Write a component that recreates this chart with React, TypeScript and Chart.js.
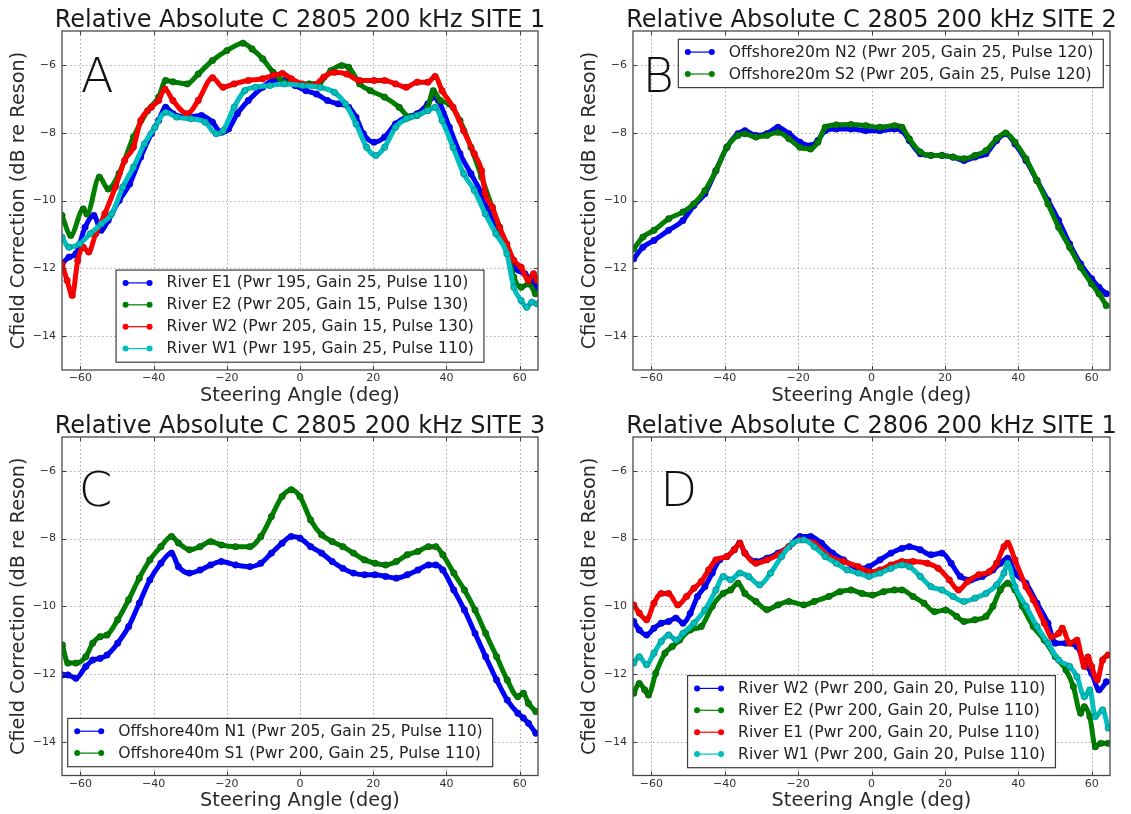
import React, { useEffect, useRef } from "react";
import { Chart, registerables } from "chart.js";

Chart.register(...registerables);

// ---------- shared axis data ----------
const xTicks = [-60, -40, -20, 0, 20, 40, 60];
const yTicks = [-14, -12, -10, -8, -6];
const xRange = [-65, 65];
const yRange = [-15, -5];
const xAxisLabel = "Steering Angle (deg)";
const yAxisLabel = "Cfield Correction (dB re Reson)";

// ---------- Panel A : 2805 SITE 1 ----------
const aTitle = "Relative Absolute C 2805 200 kHz SITE 1";
const aLabels = [
  "River E1 (Pwr 195, Gain 25, Pulse 110)",
  "River E2 (Pwr 205, Gain 15, Pulse 130)",
  "River W2 (Pwr 205, Gain 15, Pulse 130)",
  "River W1 (Pwr 195, Gain 25, Pulse 110)",
];
const aE1Angle = [-65, -63.1, -61.2, -58.7, -56.3, -54.3, -52.4, -49.4, -46.5, -43.5, -40.6, -38.6, -36.7, -34.7, -30.8, -26.9, -23.9, -21.5, -19.5, -17.1, -14.1, -10.2, -7.3, -4.3, -1.4, 1.6, 4.5, 7.5, 10.4, 13.3, 15.3, 17.3, 20.2, 23.1, 26.1, 29, 32, 34.9, 36.4, 37.8, 40.8, 43.7, 46.7, 49.6, 52.5, 55.5, 58.4, 61.4, 63.3, 64.8];
const aE1Value = [-11.87, -11.67, -11.57, -10.79, -10.44, -10.88, -10.59, -10.0, -9.51, -8.72, -8.03, -7.64, -7.25, -7.44, -7.54, -7.49, -7.69, -7.99, -7.89, -7.44, -7.05, -6.66, -6.46, -6.46, -6.61, -6.76, -6.86, -7.05, -7.15, -7.25, -7.54, -8.03, -8.28, -8.13, -7.74, -7.54, -7.44, -7.15, -6.95, -7.05, -7.84, -8.62, -9.21, -9.8, -10.59, -11.18, -11.97, -12.16, -12.36, -12.56];
const aE2Angle = [-65, -62.6, -59.2, -58.2, -54.8, -52.4, -49.4, -45.5, -41.6, -38.6, -36.7, -34.7, -30.8, -27.8, -23.9, -20, -15.6, -13.1, -10.2, -7.3, -4.3, -1.4, 2.5, 5.5, 8.4, 11.4, 13.3, 16.3, 19.2, 23.1, 27.1, 30, 32, 34.9, 36.4, 38.3, 40.8, 43.7, 46.7, 49.6, 52.5, 54.5, 56.5, 58.4, 60.4, 62.4, 64.3];
const aE2Value = [-10.44, -11.03, -10.25, -10.4, -9.31, -9.66, -9.2, -8.13, -7.35, -6.95, -6.46, -6.5, -6.56, -6.27, -5.87, -5.58, -5.36, -5.53, -5.82, -6.22, -6.51, -6.56, -6.56, -6.51, -6.17, -6.02, -6.07, -6.56, -6.76, -6.95, -7.25, -7.54, -7.49, -7.25, -6.76, -7.05, -7.15, -7.64, -8.43, -9.31, -10.2, -10.79, -11.47, -12.26, -12.56, -12.46, -12.75];
const aW2Angle = [-65, -63.6, -62.2, -60.7, -59.2, -57.7, -55.8, -53.3, -50.4, -47.9, -45.5, -43.5, -40.6, -38.6, -36.9, -34.7, -30.8, -27.8, -23.9, -21, -18, -14.1, -10.2, -7.3, -4.8, -2.4, 0.6, 3.5, 6.5, 9.4, 12.8, 16.3, 20.2, 23.1, 26.1, 29, 32, 34.9, 36.9, 38.8, 41.8, 44.7, 47.6, 49.6, 50.6, 52.5, 54.5, 56.5, 58.4, 60.4, 62.4, 63.8, 64.8];
const aW2Value = [-11.87, -12.36, -12.8, -11.77, -11.38, -11.52, -10.98, -10.39, -9.6, -8.82, -8.43, -7.64, -7.25, -7.05, -6.71, -7.05, -7.44, -7.05, -6.38, -6.66, -6.56, -6.46, -6.41, -6.31, -6.25, -6.41, -6.56, -6.61, -6.36, -6.22, -6.27, -6.46, -6.46, -6.46, -6.56, -6.66, -6.51, -6.51, -6.34, -6.76, -7.25, -7.94, -8.62, -9.12, -9.8, -10.2, -10.79, -11.28, -11.77, -11.97, -12.36, -12.16, -12.36];
const aW1Angle = [-65, -63.1, -60.2, -57.3, -54.3, -51.4, -48.4, -45.5, -42.5, -39.6, -36.7, -33.7, -29.8, -25.9, -22.9, -21, -18, -15.1, -12.2, -8.2, -4.3, 0.6, 5.5, 9.4, 12.4, 15.3, 18.2, 20.7, 23.1, 26.1, 29, 32, 34.9, 36.9, 38.8, 41.8, 44.7, 47.6, 50.6, 53.5, 56.5, 58.4, 60.4, 61.9, 63.3, 64.8];
const aW1Value = [-11.08, -11.38, -11.28, -10.98, -10.69, -10.39, -9.6, -9.02, -8.33, -7.84, -7.4, -7.54, -7.59, -7.69, -8.03, -7.94, -7.25, -6.76, -6.66, -6.61, -6.56, -6.61, -6.66, -6.81, -7.15, -7.74, -8.43, -8.67, -8.43, -7.84, -7.59, -7.49, -7.35, -7.25, -7.64, -8.43, -9.21, -9.7, -10.39, -10.98, -11.57, -12.56, -12.95, -13.15, -13.0, -13.05];

// ---------- Panel B : 2805 SITE 2 ----------
const bTitle = "Relative Absolute C 2805 200 kHz SITE 2";
const bLabels = [
  "Offshore20m N2 (Pwr 205, Gain 25, Pulse 120)",
  "Offshore20m S2 (Pwr 205, Gain 25, Pulse 120)",
];
const bAngle = [-64.8, -62.3, -59.3, -55.3, -51.4, -48.4, -45.4, -42.4, -39.4, -36.4, -34.5, -31.5, -28.5, -25.5, -22.5, -19.5, -16.6, -14.6, -12.6, -9.6, -5.6, -1.6, 2.3, 6.3, 8.3, 10.3, 13.3, 16.2, 19.2, 22.2, 25.2, 28.2, 31.2, 34.1, 36.6, 39.1, 42.1, 45.1, 48.1, 51.0, 54.0, 57.0, 60.0, 62.0, 64.0];
const bN2Value = [-11.72, -11.38, -11.18, -10.88, -10.59, -10.15, -9.8, -9.12, -8.43, -8.03, -7.94, -8.08, -8.03, -7.84, -8.03, -8.28, -8.38, -8.23, -7.94, -7.89, -7.89, -7.94, -7.94, -7.89, -7.94, -8.23, -8.62, -8.67, -8.67, -8.72, -8.82, -8.72, -8.62, -8.23, -8.03, -8.33, -8.82, -9.41, -10.0, -10.59, -11.28, -11.87, -12.31, -12.56, -12.75];
const bS2Value = [-11.43, -11.08, -10.88, -10.54, -10.34, -10.1, -9.71, -9.12, -8.43, -8.08, -8.03, -8.13, -8.08, -7.99, -8.18, -8.43, -8.48, -8.28, -7.84, -7.77, -7.76, -7.79, -7.84, -7.79, -7.84, -8.18, -8.57, -8.67, -8.67, -8.72, -8.77, -8.67, -8.53, -8.18, -8.01, -8.28, -8.77, -9.41, -10.1, -10.79, -11.38, -11.97, -12.46, -12.75, -13.1];

// ---------- Panel C : 2805 SITE 3 ----------
const cTitle = "Relative Absolute C 2805 200 kHz SITE 3";
const cLabels = [
  "Offshore40m N1 (Pwr 205, Gain 25, Pulse 110)",
  "Offshore40m S1 (Pwr 200, Gain 25, Pulse 110)",
];
const cAngle = [-64.9, -63.4, -61.2, -58.5, -56.6, -54.6, -52.7, -49.8, -46.8, -43.9, -41, -38, -35.1, -33.2, -30.2, -27.3, -24.4, -21.5, -17.6, -13.7, -10.7, -7.8, -4.9, -2.4, 0, 2.9, 5.9, 8.8, 11.7, 14.6, 17.6, 20.5, 23.4, 26.3, 29.3, 32.2, 35.1, 37.1, 39, 42, 44.9, 47.8, 50.7, 53.7, 56.6, 59.5, 61, 62.4, 64.4];
const cN1Value = [-12.03, -12.03, -12.13, -11.78, -11.59, -11.54, -11.44, -11.09, -10.6, -9.91, -9.22, -8.73, -8.43, -8.83, -9.02, -8.93, -8.78, -8.68, -8.78, -8.83, -8.73, -8.43, -8.14, -7.94, -7.99, -8.24, -8.43, -8.68, -8.88, -9.02, -9.07, -9.07, -9.12, -9.17, -9.07, -8.93, -8.78, -8.78, -8.93, -9.52, -10.11, -10.8, -11.49, -12.18, -12.77, -13.16, -13.3, -13.46, -13.75];
const cS1Value = [-11.14, -11.68, -11.68, -11.49, -11.09, -10.9, -10.85, -10.4, -9.81, -9.17, -8.63, -8.24, -7.94, -8.13, -8.33, -8.24, -8.09, -8.19, -8.24, -8.24, -7.94, -7.35, -6.76, -6.56, -6.76, -7.45, -7.89, -8.09, -8.24, -8.43, -8.63, -8.73, -8.78, -8.68, -8.48, -8.38, -8.24, -8.24, -8.48, -9.02, -9.52, -10.11, -10.8, -11.49, -12.18, -12.67, -12.57, -12.87, -13.11];

// ---------- Panel D : 2806 SITE 1 ----------
const dTitle = "Relative Absolute C 2806 200 kHz SITE 1";
const dLabels = [
  "River W2 (Pwr 200, Gain 20, Pulse 110)",
  "River E2 (Pwr 200, Gain 20, Pulse 110)",
  "River E1 (Pwr 200, Gain 20, Pulse 110)",
  "River W1 (Pwr 200, Gain 20, Pulse 110)",
];
const dW2Angle = [-64.8, -63.3, -61.3, -59.3, -57.3, -55.3, -53.3, -51.4, -49.4, -47.4, -45.4, -43.4, -41.4, -39.4, -37.4, -35.9, -34.5, -31.5, -28.5, -25.5, -22.5, -19.5, -16.6, -13.6, -10.6, -7.6, -3.6, -0.7, 2.3, 5.3, 8.3, 10.3, 13.3, 16.2, 19.2, 21.7, 24.2, 27.2, 30.2, 33.1, 35.1, 37.1, 39.1, 42.1, 45.1, 48.1, 50.1, 53.0, 56.0, 58.0, 60.0, 62.0, 64.0];
const dW2Value = [-10.45, -10.7, -10.85, -10.65, -10.5, -10.45, -10.35, -10.5, -10.21, -9.71, -9.42, -9.02, -8.63, -8.53, -8.33, -8.14, -8.43, -8.68, -8.58, -8.43, -8.24, -7.94, -7.94, -8.14, -8.43, -8.63, -8.88, -8.83, -8.63, -8.43, -8.29, -8.24, -8.33, -8.48, -8.43, -8.73, -9.12, -9.22, -9.12, -8.93, -8.73, -8.58, -9.02, -9.32, -9.91, -10.5, -11.09, -11.09, -11.19, -11.68, -11.98, -12.47, -12.23];
const dE2Angle = [-64.8, -63.3, -61.8, -60.8, -58.8, -56.3, -54.3, -52.3, -49.4, -46.4, -43.4, -40.4, -38.4, -36.4, -34.5, -31.5, -28.5, -25.5, -22.5, -18.5, -15.6, -11.6, -8.6, -5.6, -2.6, 0.3, 3.3, 6.3, 8.3, 11.3, 14.3, 17.2, 20.2, 23.2, 25.2, 28.2, 31.2, 33.1, 35.1, 37.1, 39.1, 41.1, 44.1, 47.1, 50.1, 53.0, 55.0, 57.0, 58.0, 59.5, 61.0, 62.5, 64.5];
const dE2Value = [-12.57, -12.28, -12.47, -12.62, -11.98, -11.39, -11.19, -11.0, -10.7, -10.6, -10.0, -9.62, -9.52, -9.32, -9.62, -9.86, -10.1, -9.96, -9.86, -9.96, -9.86, -9.71, -9.57, -9.52, -9.62, -9.67, -9.57, -9.52, -9.52, -9.71, -9.91, -10.16, -10.11, -10.3, -10.45, -10.4, -10.3, -10.0, -9.52, -9.32, -9.52, -10.0, -10.6, -11.0, -11.49, -11.88, -12.37, -13.16, -12.97, -13.26, -14.15, -14.05, -14.05];
const dE1Angle = [-64.8, -63.3, -61.3, -59.3, -57.3, -55.3, -52.8, -50.4, -48.4, -46.4, -44.4, -42.4, -39.4, -37.4, -35.9, -34.5, -31.5, -28.5, -25.5, -22.5, -19.5, -15.6, -11.6, -7.6, -3.6, -0.7, 2.3, 5.3, 8.3, 11.3, 15.2, 18.2, 21.2, 23.7, 26.2, 29.2, 32.1, 34.1, 36.1, 37.1, 39.1, 42.1, 44.1, 47.1, 49.1, 51.0, 52.0, 54.0, 56.0, 58.0, 59.0, 60.0, 61.5, 63.0, 64.5];
const dE1Value = [-9.96, -10.2, -10.4, -9.91, -9.62, -9.62, -9.96, -9.71, -9.47, -9.27, -8.93, -8.63, -8.53, -8.33, -8.14, -8.43, -8.73, -8.63, -8.48, -8.24, -8.04, -8.14, -8.53, -8.68, -8.83, -8.98, -8.93, -8.78, -8.68, -8.68, -8.73, -8.88, -9.22, -9.52, -9.27, -9.07, -8.98, -8.73, -8.24, -8.14, -8.63, -9.42, -9.81, -10.5, -10.9, -10.8, -10.65, -11.09, -11.0, -11.78, -11.5, -11.78, -12.18, -11.59, -11.44];
const dW1Angle = [-64.8, -63.3, -61.3, -59.3, -57.3, -55.3, -53.3, -51.4, -48.4, -45.4, -42.4, -40.4, -38.4, -35.9, -33.5, -30.5, -27.5, -24.5, -21.5, -18.5, -15.6, -12.6, -9.6, -6.6, -3.6, -0.7, 2.3, 5.3, 8.3, 10.3, 13.3, 16.2, 19.2, 22.2, 25.2, 28.2, 31.2, 34.1, 36.1, 37.1, 39.1, 42.1, 45.1, 48.1, 51.0, 54.0, 56.0, 58.0, 59.5, 61.0, 63.0, 64.5];
const dW1Value = [-11.68, -11.49, -11.73, -11.39, -11.04, -10.85, -11.0, -10.8, -10.5, -10.11, -9.52, -9.12, -9.22, -9.02, -9.12, -9.37, -9.02, -8.53, -8.14, -8.04, -8.24, -8.53, -8.73, -8.93, -9.02, -9.12, -9.02, -8.88, -8.78, -8.83, -9.12, -9.42, -9.52, -9.71, -9.86, -9.76, -9.62, -9.37, -9.02, -8.73, -9.42, -10.0, -10.6, -11.09, -11.59, -11.78, -12.08, -12.67, -12.47, -13.26, -13.06, -13.6];

// ---------- styling ----------
const FONT = '"DejaVu Sans", "Liberation Sans", sans-serif';
const BLUE = "#0000ff";
const GREEN = "#008000";
const RED = "#ff0000";
const CYAN = "#00bfbf";
const EDGE: Record<string, string> = {
  [BLUE]: "#00009a",
  [GREEN]: "#004800",
  [RED]: "#a80000",
  [CYAN]: "#007373",
};

type Series = { label: string; color: string; x: number[]; y: number[] };
type Panel = {
  title: string;
  letter: string;
  letterAt: [number, number];
  legendLoc: "lower center" | "upper right" | "lower left";
  series: Series[];
  box: { left: number; top: number; width: number; height: number };
  area: { left: number; top: number; right: number; bottom: number };
};

const panels: Panel[] = [
  {
    title: aTitle,
    letter: "A",
    letterAt: [-59.9, -6.79],
    legendLoc: "lower center",
    series: [
      { label: aLabels[0], color: BLUE, x: aE1Angle, y: aE1Value },
      { label: aLabels[1], color: GREEN, x: aE2Angle, y: aE2Value },
      { label: aLabels[2], color: RED, x: aW2Angle, y: aW2Value },
      { label: aLabels[3], color: CYAN, x: aW1Angle, y: aW1Value },
    ],
    box: { left: 0, top: 0, width: 565, height: 407 },
    area: { left: 62, top: 31, right: 538, bottom: 370 },
  },
  {
    title: bTitle,
    letter: "B",
    letterAt: [-62.4, -6.8],
    legendLoc: "upper right",
    series: [
      { label: bLabels[0], color: BLUE, x: bAngle, y: bN2Value },
      { label: bLabels[1], color: GREEN, x: bAngle, y: bS2Value },
    ],
    box: { left: 565, top: 0, width: 566, height: 407 },
    area: { left: 68, top: 31, right: 545, bottom: 370 },
  },
  {
    title: cTitle,
    letter: "C",
    letterAt: [-60.4, -7.03],
    legendLoc: "lower left",
    series: [
      { label: cLabels[0], color: BLUE, x: cAngle, y: cN1Value },
      { label: cLabels[1], color: GREEN, x: cAngle, y: cS1Value },
    ],
    box: { left: 0, top: 407, width: 565, height: 407 },
    area: { left: 62, top: 30, right: 538, bottom: 368.5 },
  },
  {
    title: dTitle,
    letter: "D",
    letterAt: [-57.6, -7.03],
    legendLoc: "lower center",
    series: [
      { label: dLabels[0], color: BLUE, x: dW2Angle, y: dW2Value },
      { label: dLabels[1], color: GREEN, x: dE2Angle, y: dE2Value },
      { label: dLabels[2], color: RED, x: dE1Angle, y: dE1Value },
      { label: dLabels[3], color: CYAN, x: dW1Angle, y: dW1Value },
    ],
    box: { left: 565, top: 407, width: 566, height: 407 },
    area: { left: 68, top: 30, right: 545, bottom: 368.5 },
  },
];

const AXIS_LABEL_SIZE = 19.3;
const TICK_SIZE = 11;
const LEGEND_SIZE = 15.6;

function decoPlugin(panel: Panel) {
  return {
    id: "panelDeco",
    beforeDatasetsDraw(chart: any) {
      // dotted grid lines at the major ticks
      const { ctx, chartArea: ca, scales } = chart;
      ctx.save();
      ctx.strokeStyle = "#a8a8a8";
      ctx.lineWidth = 1;
      ctx.setLineDash([1.5, 2.5]);
      ctx.beginPath();
      for (const v of xTicks) {
        const px = Math.round(scales.x.getPixelForValue(v)) + 0.5;
        ctx.moveTo(px, ca.top);
        ctx.lineTo(px, ca.bottom);
      }
      for (const v of yTicks) {
        const py = Math.round(scales.y.getPixelForValue(v)) + 0.5;
        ctx.moveTo(ca.left, py);
        ctx.lineTo(ca.right, py);
      }
      ctx.stroke();
      ctx.restore();
    },
    afterDraw(chart: any) {
      const { ctx, chartArea: ca, scales } = chart;
      const xs = scales.x;
      const ys = scales.y;
      ctx.save();

      // inner tick marks
      ctx.strokeStyle = "#3a3a3a";
      ctx.lineWidth = 1;
      ctx.beginPath();
      for (const v of xTicks) {
        const px = Math.round(xs.getPixelForValue(v)) + 0.5;
        ctx.moveTo(px, ca.bottom);
        ctx.lineTo(px, ca.bottom - 4);
        ctx.moveTo(px, ca.top);
        ctx.lineTo(px, ca.top + 4);
      }
      for (const v of yTicks) {
        const py = Math.round(ys.getPixelForValue(v)) + 0.5;
        ctx.moveTo(ca.left, py);
        ctx.lineTo(ca.left + 4, py);
        ctx.moveTo(ca.right, py);
        ctx.lineTo(ca.right - 4, py);
      }
      ctx.stroke();

      // frame
      ctx.strokeStyle = "#4a4a4a";
      ctx.lineWidth = 1.3;
      ctx.strokeRect(ca.left, ca.top, ca.right - ca.left, ca.bottom - ca.top);

      // panel title
      ctx.fillStyle = "#1a1a1a";
      ctx.font = `24px ${FONT}`;
      ctx.textAlign = "center";
      ctx.textBaseline = "alphabetic";
      ctx.fillText(panel.title, (ca.left + ca.right) / 2, ca.top - 4.5);

      // big panel letter
      ctx.font = `200 48px ${FONT}`;
      ctx.textAlign = "left";
      ctx.fillStyle = "#111";
      ctx.fillText(
        panel.letter,
        xs.getPixelForValue(panel.letterAt[0]),
        ys.getPixelForValue(panel.letterAt[1])
      );

      // legend
      ctx.font = `${LEGEND_SIZE}px ${FONT}`;
      const tw = Math.max(...panel.series.map((s) => ctx.measureText(s.label).width));
      const padL = 9.5, lineLen = 24, gap = 17, padR = 10;
      const rowH = 21.9, padT = 12.8, padB = 13.6;
      const n = panel.series.length;
      const bw = padL + lineLen + gap + tw + padR;
      const bh = padT + (n - 1) * rowH + padB;
      let bx = 0, by = 0;
      if (panel.legendLoc === "lower center") {
        bx = (ca.left + ca.right) / 2 - bw / 2;
        by = ca.bottom - 7.8 - bh;
      } else if (panel.legendLoc === "upper right") {
        bx = ca.right - 6.7 - bw;
        by = ca.top + 8.3;
      } else {
        bx = ca.left + 5.7;
        by = ca.bottom - 8.8 - bh;
      }
      ctx.fillStyle = "#ffffff";
      ctx.fillRect(bx, by, bw, bh);
      ctx.strokeStyle = "#3c3c3c";
      ctx.lineWidth = 1.2;
      ctx.strokeRect(bx, by, bw, bh);
      panel.series.forEach((s, i) => {
        const cy = by + padT + i * rowH;
        const x0 = bx + padL;
        const x1 = x0 + lineLen;
        ctx.strokeStyle = s.color;
        ctx.lineWidth = 1.2;
        ctx.beginPath();
        ctx.moveTo(x0, cy);
        ctx.lineTo(x1, cy);
        ctx.stroke();
        ctx.fillStyle = s.color;
        for (const px of [x0, x1]) {
          ctx.beginPath();
          ctx.arc(px, cy, 3, 0, Math.PI * 2);
          ctx.fill();
        }
        ctx.fillStyle = "#222";
        ctx.textAlign = "left";
        ctx.textBaseline = "middle";
        ctx.fillText(s.label, x1 + gap, cy + 0.5);
      });

      ctx.restore();
    },
  };
}

function makeChart(canvas: HTMLCanvasElement, panel: Panel) {
  const { area, box } = panel;
  const lh = AXIS_LABEL_SIZE * 1.2;
  const n = panel.series.length;
  return new Chart(canvas, {
    type: "line",
    data: {
      datasets: panel.series.map((s, i) => ({
        label: s.label,
        data: s.x.map((x, j) => ({ x, y: s.y[j] })),
        borderColor: s.color,
        backgroundColor: s.color,
        pointBackgroundColor: s.color,
        pointBorderColor: EDGE[s.color],
        pointBorderWidth: 0.6,
        pointRadius: 3.2,
        borderWidth: 5,
        borderJoinStyle: "round",
        borderCapStyle: "round",
        cubicInterpolationMode: "monotone",
        fill: false,
        order: n - 1 - i,
      })),
    },
    options: {
      responsive: false,
      maintainAspectRatio: false,
      animation: false,
      events: [],
      layout: {
        padding: { left: 0, top: area.top, right: box.width - area.right, bottom: 0 },
      },
      plugins: {
        legend: { display: false },
        tooltip: { enabled: false },
        title: { display: false },
      },
      scales: {
        x: {
          type: "linear",
          min: xRange[0],
          max: xRange[1],
          afterBuildTicks: (s: any) => {
            s.ticks = xTicks.map((v) => ({ value: v }));
          },
          afterFit: (s: any) => {
            s.height = box.height - area.bottom;
          },
          grid: { display: false, drawTicks: false },
          border: { display: false },
          ticks: {
            padding: 2,
            color: "#333",
            font: { family: FONT, size: TICK_SIZE },
            callback: (v: any) => String(v).replace("-", "\u2212"),
          },
          title: {
            display: true,
            text: xAxisLabel,
            color: "#2a2a2a",
            font: { family: FONT, size: AXIS_LABEL_SIZE },
            padding: { top: 0, bottom: box.height - (area.bottom + 25.5) - lh / 2 },
          },
        },
        y: {
          type: "linear",
          min: yRange[0],
          max: yRange[1],
          afterBuildTicks: (s: any) => {
            s.ticks = yTicks.map((v) => ({ value: v }));
          },
          afterFit: (s: any) => {
            s.width = area.left;
          },
          grid: { display: false, drawTicks: false },
          border: { display: false },
          ticks: {
            padding: 6,
            color: "#333",
            font: { family: FONT, size: TICK_SIZE },
            callback: (v: any) => String(v).replace("-", "\u2212"),
          },
          title: {
            display: true,
            text: yAxisLabel,
            color: "#2a2a2a",
            font: { family: FONT, size: AXIS_LABEL_SIZE },
            padding: { top: area.left - 43 - lh / 2, bottom: 0 },
          },
        },
      },
    } as any,
    plugins: [decoPlugin(panel)],
  });
}

function PanelChart({ panel }: { panel: Panel }) {
  const ref = useRef<HTMLCanvasElement | null>(null);
  useEffect(() => {
    if (!ref.current) return;
    const chart = makeChart(ref.current, panel);
    return () => chart.destroy();
  }, [panel]);
  const { box } = panel;
  return (
    <canvas
      ref={ref}
      width={box.width}
      height={box.height}
      style={{
        position: "absolute",
        left: box.left,
        top: box.top,
        width: box.width,
        height: box.height,
      }}
    />
  );
}

export default function App() {
  return (
    <div
      style={{
        position: "absolute",
        left: 0,
        top: 0,
        width: 1131,
        height: 814,
        background: "#ffffff",
        overflow: "hidden",
      }}
    >
      {panels.map((p) => (
        <PanelChart key={p.title} panel={p} />
      ))}
    </div>
  );
}
